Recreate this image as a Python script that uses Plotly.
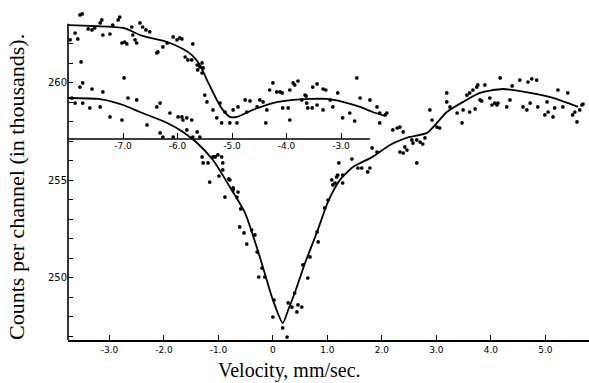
import plotly.graph_objects as go

# ---- main spectrum (lower), velocity in mm/sec, counts in thousands ----
main_v = [-3.49, -3.32, -3.54, -3.12, -3.69, -3.63, -3.49, -3.36, -3.17, -2.99, -2.77, -2.73, -2.66, -2.50,
          -2.31, -2.13, -2.07, -1.89, -1.74, -1.65, -1.58, -2.07, -2.02, -1.83, -1.67, -1.49, -1.39, -1.34,
          -1.28, -1.19, -1.16, -1.10, -1.01, -0.92, -0.79, -0.73, -0.64, -0.66, -1.58, -1.47, -1.30, -1.06,
          -0.94, -0.92, -0.99, -0.81, -0.88, -0.73, -0.59, -0.61, -0.53, -0.48, -0.39, -0.33, -0.29, -0.20,
          -0.26, -0.15, 0.02, 0.00, 0.18, 0.26, 0.28, 0.35, 0.40, 0.44, 0.46, 0.53, 0.55, 0.64, 0.68, 0.81,
          0.83, 0.95, 1.01, 1.08, 1.14, 1.19, 1.21, 1.28, 1.45, 1.63, 1.74, 1.78, 1.17, 1.28, 1.10, 2.64,
          2.28, 2.33, 2.39, 2.20, 2.33, 2.39, 2.42, 2.57, 2.70, 2.75, 2.88, 2.92, 3.06, 3.01, 3.19, 3.19,
          3.25, 3.38, 3.47, 3.49, 3.56, 3.61, 3.67, 3.74, 3.80, 3.89, 3.98, 4.17, 4.11, 4.29, 4.35, 4.53,
          4.68, 4.75, 4.84, 4.59, 4.66, 4.86, 5.03, 4.99, 5.14, 5.23, 5.41, 5.32, 5.50, 5.58, 5.67, 5.63,
          1.56, 1.82, 1.91, 2.55, 2.64, 2.79, 2.46, 3.61, 3.71, 3.83, 3.76, 4.02, 4.07, 4.13, 4.39, 4.72,
          5.05, 5.17, 5.54, 5.69]
main_counts = [260.00, 259.69, 259.79, 259.54, 259.23, 258.97, 258.97, 258.72, 258.77, 258.26, 258.10, 260.26,
               259.23, 259.13, 257.85, 258.77, 258.97, 258.46, 258.26, 258.10, 258.21, 257.44, 257.23, 257.23,
               258.26, 258.10, 257.49, 257.23, 255.90, 255.90, 254.92, 256.21, 256.31, 255.54, 255.03, 254.51,
               254.41, 254.15, 257.59, 257.23, 256.21, 256.21, 256.21, 255.90, 255.23, 255.08, 254.15, 254.62,
               253.54, 252.62, 252.31, 251.74, 252.46, 252.21, 251.33, 250.51, 250.05, 250.05, 248.87, 248.00,
               247.44, 246.97, 248.72, 248.51, 249.23, 248.26, 248.62, 248.51, 250.67, 250.00, 251.08, 252.36,
               251.85, 253.59, 254.00, 255.03, 254.87, 255.28, 255.90, 255.28, 256.10, 255.64, 255.44, 255.64,
               255.18, 254.87, 254.77, 255.90, 257.69, 257.74, 257.49, 257.59, 256.46, 256.41, 256.72, 256.92,
               256.97, 256.87, 258.62, 258.10, 257.69, 257.74, 259.49, 259.03, 258.77, 258.46, 257.95, 258.62,
               259.38, 259.49, 259.64, 259.79, 259.13, 259.90, 259.23, 260.26, 258.87, 258.77, 259.13, 260.15,
               260.05, 260.21, 260.15, 258.77, 258.62, 258.77, 259.03, 258.36, 258.26, 259.64, 259.49, 258.77,
               258.36, 258.00, 258.87, 258.62, 255.64, 256.67, 256.46, 257.08, 257.08, 257.18, 256.56, 258.51,
               258.67, 259.08, 259.90, 258.87, 258.97, 258.97, 259.85, 258.97, 258.51, 258.72, 258.51, 258.92]

main_fit_v = [-3.76, -3.20, -2.94, -2.75, -2.44, -1.94, -1.65, -1.39, -1.10, -0.79, -0.51, -0.24, 0.00, 0.18,
              0.28, 0.40, 0.59, 0.81, 1.01, 1.23, 1.47, 1.83, 2.15, 2.51, 2.83, 3.01, 3.19, 3.49, 3.80, 4.22,
              4.72, 5.14, 5.60]
main_fit_counts = [259.23, 259.18, 259.03, 258.87, 258.51, 257.95, 257.49, 256.92, 256.05, 254.67, 253.33,
                   251.08, 248.87, 247.69, 248.36, 249.23, 250.77, 252.36, 253.90, 255.03, 255.69, 256.21,
                   256.82, 257.23, 257.44, 257.95, 258.51, 259.03, 259.49, 259.69, 259.49, 259.23, 258.77]

# ---- inset spectrum (upper), on its own velocity scale ----
inset_v = [-7.79, -7.75, -7.06, -7.88, -7.83, -7.64, -7.57, -7.52, -7.42, -7.39, -7.37, -7.24, -7.19, -7.09,
           -6.84, -6.82, -7.02, -6.97, -6.93, -6.78, -6.75, -6.69, -6.64, -6.58, -6.51, -6.38, -6.36, -6.27,
           -6.19, -6.08, -6.01, -5.96, -5.86, -5.81, -7.77, -7.97, -5.92, -5.72, -5.74, -5.64, -5.55, -5.63,
           -5.53, -5.55, -5.50, -5.46, -5.35, -5.22, -5.13, -5.28, -5.19, -5.04, -4.98, -4.89, -4.91, -4.76,
           -4.67, -4.73, -4.54, -4.49, -4.43, -4.36, -4.38, -4.31, -4.25, -4.18, -4.08, -3.94, -4.07, -3.97,
           -3.94, -3.85, -3.79, -3.72, -3.64, -3.61, -3.66, -3.52, -3.44, -3.33, -3.28, -3.06, -2.71, -3.63,
           -3.53, -3.44, -3.33, -3.20, -3.15, -2.97, -2.84, -2.75, -2.65, -2.47, -2.34, -2.29, -2.19, -2.16,
           -2.29, -4.12, -3.88, -5.59]
inset_counts = [263.49, 263.54, 263.38, 262.56, 262.26, 262.77, 262.72, 262.82, 263.08, 263.23, 262.46, 262.51,
                262.97, 263.23, 262.87, 262.46, 262.05, 262.10, 262.00, 262.21, 262.05, 263.08, 262.87, 262.72,
                262.62, 261.54, 261.59, 261.85, 262.05, 262.36, 262.21, 262.31, 261.33, 261.18, 261.08, 262.21,
                262.26, 262.00, 261.18, 260.92, 261.03, 260.67, 260.77, 260.51, 259.38, 259.03, 258.62, 258.97,
                258.51, 258.21, 257.95, 257.95, 258.62, 258.77, 257.95, 259.13, 259.08, 258.51, 258.77, 259.13,
                259.03, 258.62, 257.95, 259.64, 260.00, 259.54, 259.49, 259.64, 258.72, 258.72, 258.10, 259.90,
                260.10, 259.13, 259.33, 258.72, 259.38, 259.79, 259.95, 259.69, 259.64, 259.49, 260.26, 258.97,
                258.72, 258.87, 258.62, 259.13, 258.77, 258.21, 258.46, 258.05, 259.23, 259.13, 258.77, 258.46,
                258.36, 258.46, 257.95, 259.54, 260.00, 260.82]

inset_fit_v = [-8.01, -7.55, -7.00, -6.64, -6.19, -5.90, -5.74, -5.59, -5.46, -5.37, -5.28, -5.17, -5.04,
               -4.91, -4.62, -4.25, -3.88, -3.57, -3.26, -2.97, -2.65, -2.42, -2.19]
inset_fit_counts = [262.97, 262.92, 262.82, 262.41, 262.10, 261.74, 261.44, 260.92, 260.15, 259.64, 259.13,
                    258.62, 258.26, 258.26, 258.62, 258.97, 259.13, 259.18, 259.18, 259.03, 258.77, 258.51,
                    258.31]

x_ticks = [-3, -2, -1, 0, 1, 2, 3, 4, 5]
x_ticktext = ["-3.0", "-2.0", "-1.0", "0", "1.0", "2.0", "3.0", "4.0", "5.0"]
inset_ticks = [-7, -6, -5, -4, -3]
inset_ticktext = ["-7.0", "-6.0", "-5.0", "-4.0", "-3.0"]
inset_axis_level = 257.13
inset_axis_end = -2.47

X_RANGE = [-3.76, 5.80]
INSET_SHIFT = 4.25
Y_RANGE = [246.82, 263.69]      # visible scale (room above the axis for high dots)
Y_AXIS_TOP = 263.03             # where the drawn y-axis line ends

fig = go.Figure()
dot = dict(color="black", size=3.7)
fig.add_trace(go.Scatter(x=main_v, y=main_counts, mode="markers", marker=dot, cliponaxis=False,
                         showlegend=False))
fig.add_trace(go.Scatter(x=main_fit_v, y=main_fit_counts, mode="lines",
                         line=dict(color="black", width=1.8, shape="spline", smoothing=0.6), showlegend=False))
fig.add_trace(go.Scatter(x=inset_v, y=inset_counts, mode="markers", marker=dot, xaxis="x2",
                         cliponaxis=False, showlegend=False))
fig.add_trace(go.Scatter(x=inset_fit_v, y=inset_fit_counts, mode="lines", xaxis="x2",
                         line=dict(color="black", width=1.8, shape="spline", smoothing=0.8), showlegend=False))

tickfont = dict(family="DejaVu Sans", size=9, color="black")
ypos = (inset_axis_level - Y_RANGE[0]) / (Y_RANGE[1] - Y_RANGE[0])

fig.update_layout(
    width=589, height=383,
    margin=dict(l=68, r=0, t=11, b=43),
    paper_bgcolor="white", plot_bgcolor="white",
    xaxis=dict(range=X_RANGE, tickmode="array", tickvals=x_ticks, ticktext=x_ticktext,
               ticks="inside", ticklen=5, tickwidth=1.3, tickcolor="black",
               showline=True, linecolor="black", linewidth=1.6,
               showgrid=False, zeroline=False, tickfont=tickfont),
    xaxis2=dict(range=[X_RANGE[0] - INSET_SHIFT, X_RANGE[1] - INSET_SHIFT], overlaying="x",
                anchor="free", position=ypos, side="bottom",
                tickmode="array", tickvals=inset_ticks, ticktext=inset_ticktext,
                ticks="inside", ticklen=6, tickwidth=1.3, tickcolor="black",
                showline=False, showgrid=False, zeroline=False, tickfont=tickfont),
    yaxis=dict(range=Y_RANGE, tickmode="linear", tick0=250, dtick=5,
               ticks="inside", ticklen=5, tickwidth=1.3, tickcolor="black",
               minor=dict(tickmode="array", tickvals=list(range(247, 263)), ticks="inside", ticklen=5,
                          tickwidth=1.2, tickcolor="black"),
               showline=False, showgrid=False, zeroline=False,
               tickfont=dict(family="DejaVu Sans", size=10, color="black")),
    shapes=[dict(type="line", xref="x2", yref="y",
                 x0=X_RANGE[0] - INSET_SHIFT, x1=inset_axis_end,
                 y0=inset_axis_level, y1=inset_axis_level,
                 line=dict(color="black", width=1.6)),
            dict(type="line", xref="paper", yref="y", x0=0, x1=0,
                 y0=Y_RANGE[0], y1=Y_AXIS_TOP, line=dict(color="black", width=1.6))],
    annotations=[
        dict(text="Velocity, mm/sec.", xref="paper", yref="paper", x=0.426, y=-0.094,
             xanchor="center", yanchor="middle", showarrow=False,
             font=dict(family="Liberation Serif", size=20, color="black")),
        dict(text="Counts per channel (in thousands).", xref="paper", yref="paper", x=-0.1, y=0.465,
             xanchor="center", yanchor="middle", textangle=-90, showarrow=False,
             font=dict(family="Liberation Serif", size=22, color="black")),
    ],
)

fig.write_html("out.html")
